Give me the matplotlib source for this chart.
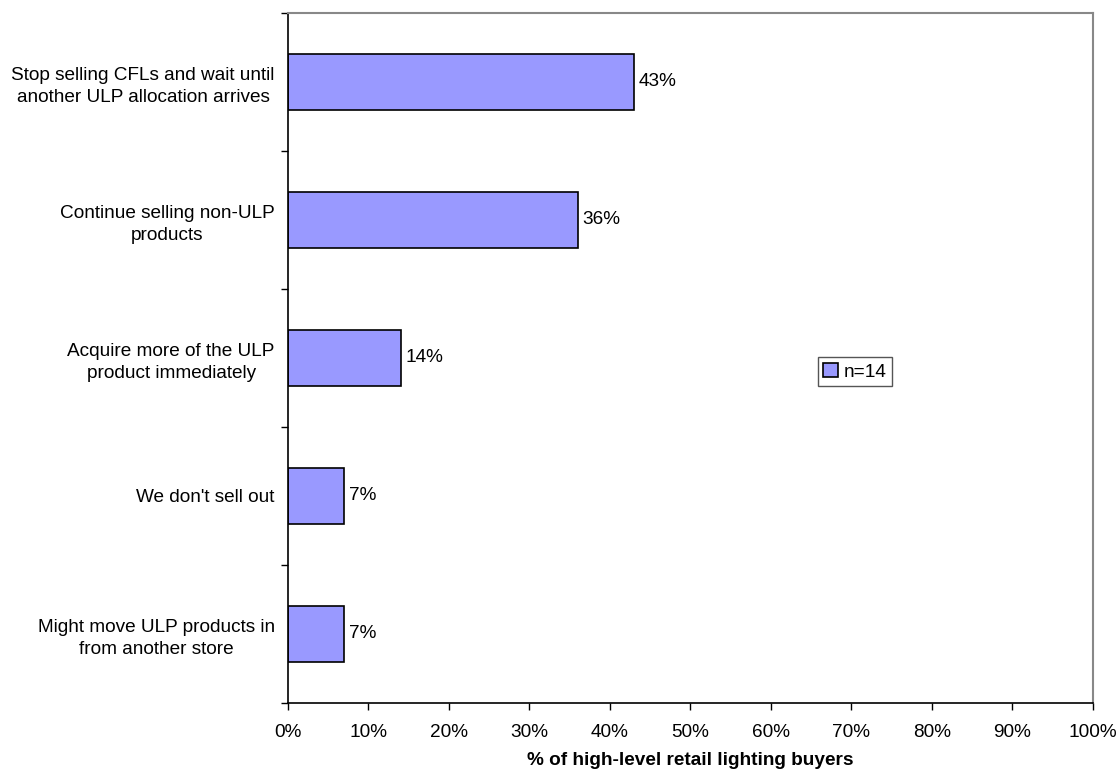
import matplotlib.pyplot as plt
from matplotlib.ticker import MultipleLocator, PercentFormatter

plt.rcParams['font.family'] = ['Liberation Sans', 'DejaVu Sans']

# responses, top to bottom
categories = [
    "Stop selling CFLs and wait until\nanother ULP allocation arrives",
    "Continue selling non-ULP\nproducts",
    "Acquire more of the ULP\nproduct immediately",
    "We don't sell out",
    "Might move ULP products in\nfrom another store",
]
shares = [43, 36, 14, 7, 7]
legend_label = "n=14"

fs = 13.7

fig = plt.figure(figsize=(11.18, 7.72), dpi=100)
ax = fig.add_axes([0.2576, 0.0894, 0.72, 0.8938])

ypos = list(range(len(categories)))
bars = ax.barh(ypos, shares, height=0.4, color='#9999ff', edgecolor='black',
               linewidth=1.2, label=legend_label)

for b, v in zip(bars, shares):
    ax.text(b.get_width() + 0.6, b.get_y() + b.get_height() / 2, "%d%%" % v,
            va='center', ha='left', fontsize=fs)

ax.set_xlim(0, 100)
ax.set_ylim(len(categories) - 0.5, -0.5)
ax.xaxis.set_major_locator(MultipleLocator(10))
ax.xaxis.set_major_formatter(PercentFormatter(decimals=0))

# labels at bar centres, tick marks on the category boundaries (Excel style)
ax.set_yticks(ypos)
ax.set_yticklabels(categories, fontsize=fs, multialignment='center',
                   linespacing=1.35)
ax.tick_params(axis='y', which='major', length=0, pad=9.5)
ax.set_yticks([i - 0.5 for i in range(len(categories) + 1)], minor=True)
ax.tick_params(axis='y', which='minor', length=5, width=1)
ax.tick_params(axis='x', length=5, width=1, labelsize=fs, pad=10)

for side in ['top', 'right']:
    ax.spines[side].set_color('#888888')
    ax.spines[side].set_linewidth(1.5)
for side in ['left', 'bottom']:
    ax.spines[side].set_linewidth(1.2)

ax.set_xlabel('% of high-level retail lighting buyers', fontsize=fs,
              fontweight='bold', labelpad=8)

leg = ax.legend(loc='center', bbox_to_anchor=(0.704, 0.48), fontsize=fs,
                fancybox=False, framealpha=1, handlelength=0.75, handleheight=0.75,
                handletextpad=0.3, borderpad=0.3)
leg.get_frame().set_edgecolor('#555555')
leg.get_frame().set_linewidth(1)

fig.savefig('out.png', dpi=100)
